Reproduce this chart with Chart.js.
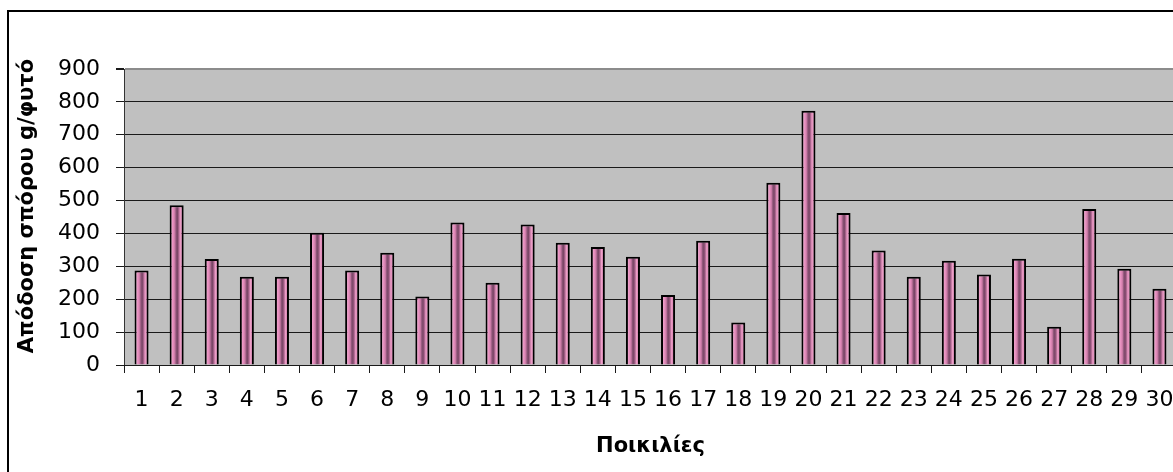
<!DOCTYPE html>
<html>
<head>
<meta charset="utf-8">
<script src="https://cdn.jsdelivr.net/npm/chart.js@4.4.0/dist/chart.umd.min.js"></script>
<style>
  html, body { margin: 0; padding: 0; background: #fff; overflow: hidden; width: 1173px; height: 472px; }
  #wrap { position: absolute; left: 0; top: 0; width: 1190px; height: 472px; }
  #frame { position: absolute; left: 7px; top: 10px; width: 1300px; height: 600px;
           border-left: 2px solid #000; border-top: 2px solid #000; pointer-events: none; }
</style>
</head>
<body>
<div id="wrap"><canvas id="c" width="1190" height="472" style="width:1190px;height:472px"></canvas></div>
<div id="frame"></div>
<script>
const categories = ['1','2','3','4','5','6','7','8','9','10','11','12','13','14','15','16','17','18','19','20','21','22','23','24','25','26','27','28','29','30'];
const yieldValues = [287, 486, 322, 268, 268, 402, 287, 341, 208, 433, 250, 427, 372, 359, 329, 213, 378, 129, 554, 773, 462, 348, 268, 317, 275, 323, 116, 474, 293, 232];
const yTicks = [0, 100, 200, 300, 400, 500, 600, 700, 800, 900];
const yTitle = '   Απόδοση σπόρου g/φυτό';
const xTitle = 'Ποικιλίες';

const plotBg = {
  id: 'plotBg',
  beforeDraw(chart) {
    const {ctx, chartArea: a} = chart;
    ctx.save();
    ctx.fillStyle = '#c0c0c0';
    ctx.fillRect(a.left, a.top, a.right - a.left, a.bottom - a.top);
    ctx.restore();
  }
};

function barFill(context) {
  const chart = context.chart;
  const xs = chart.scales && chart.scales.x;
  if (!chart.chartArea || !xs || context.dataIndex === undefined) return '#d07aa8';
  const cx = xs.getPixelForValue(context.dataIndex);
  const half = xs.width / categories.length * 0.4 / 2 - 2;
  const g = chart.ctx.createLinearGradient(cx - half, 0, cx + half, 0);
  g.addColorStop(0, '#f0a2cc');
  g.addColorStop(0.18, '#e48cbc');
  g.addColorStop(0.32, '#c878a4');
  g.addColorStop(0.45, '#8a5275');
  g.addColorStop(0.58, '#7a4666');
  g.addColorStop(0.72, '#b06892');
  g.addColorStop(0.86, '#ee9ec8');
  g.addColorStop(1, '#d884b2');
  return g;
}

new Chart(document.getElementById('c'), {
  type: 'bar',
  data: {
    labels: categories,
    datasets: [{
      data: yieldValues,
      backgroundColor: barFill,
      borderColor: '#000',
      borderWidth: 2,
      borderSkipped: 'start',
      barPercentage: 0.4,
      categoryPercentage: 1.0
    }]
  },
  options: {
    responsive: false,
    animation: false,
    devicePixelRatio: 1,
    layout: { padding: { left: 10, top: 69, right: 13, bottom: 0 } },
    plugins: { legend: { display: false }, tooltip: { enabled: false } },
    scales: {
      y: {
        min: 0, max: 900,
        afterFit(scale) { scale.width = 114; },
        afterBuildTicks(scale) { scale.ticks = yTicks.map(v => ({ value: v })); },
        ticks: { color: '#000', font: { family: 'DejaVu Sans', size: 22 }, padding: 16 },
        grid: {
          color: (c) => (c.tick && c.tick.value === 900) ? '#8c8c8c' : '#1a1a1a',
          lineWidth: (c) => (c.tick && c.tick.value === 900) ? 2 : 1,
          tickLength: 8,
          tickColor: '#1a1a1a',
          drawTicks: true
        },
        border: { display: true, color: '#333', width: 1 },
        title: {
          display: true, text: yTitle, color: '#000',
          font: { family: 'DejaVu Sans', size: 21, weight: 'bold' },
          padding: { top: 5, bottom: 0 }
        }
      },
      x: {
        afterFit(scale) { scale.height = 107; },
        ticks: { color: '#000', font: { family: 'DejaVu Sans', size: 22 }, padding: 14, autoSkip: false, maxRotation: 0, minRotation: 0 },
        grid: { offset: true, drawOnChartArea: false, drawTicks: true, tickLength: 8, color: '#1a1a1a' },
        border: { display: true, color: '#1a1a1a', width: 1 },
        title: {
          display: true, text: xTitle, color: '#000',
          font: { family: 'DejaVu Sans', size: 21, weight: 'bold' },
          padding: { top: 0, bottom: 13 }
        }
      }
    }
  },
  plugins: [plotBg]
});
</script>
</body>
</html>
